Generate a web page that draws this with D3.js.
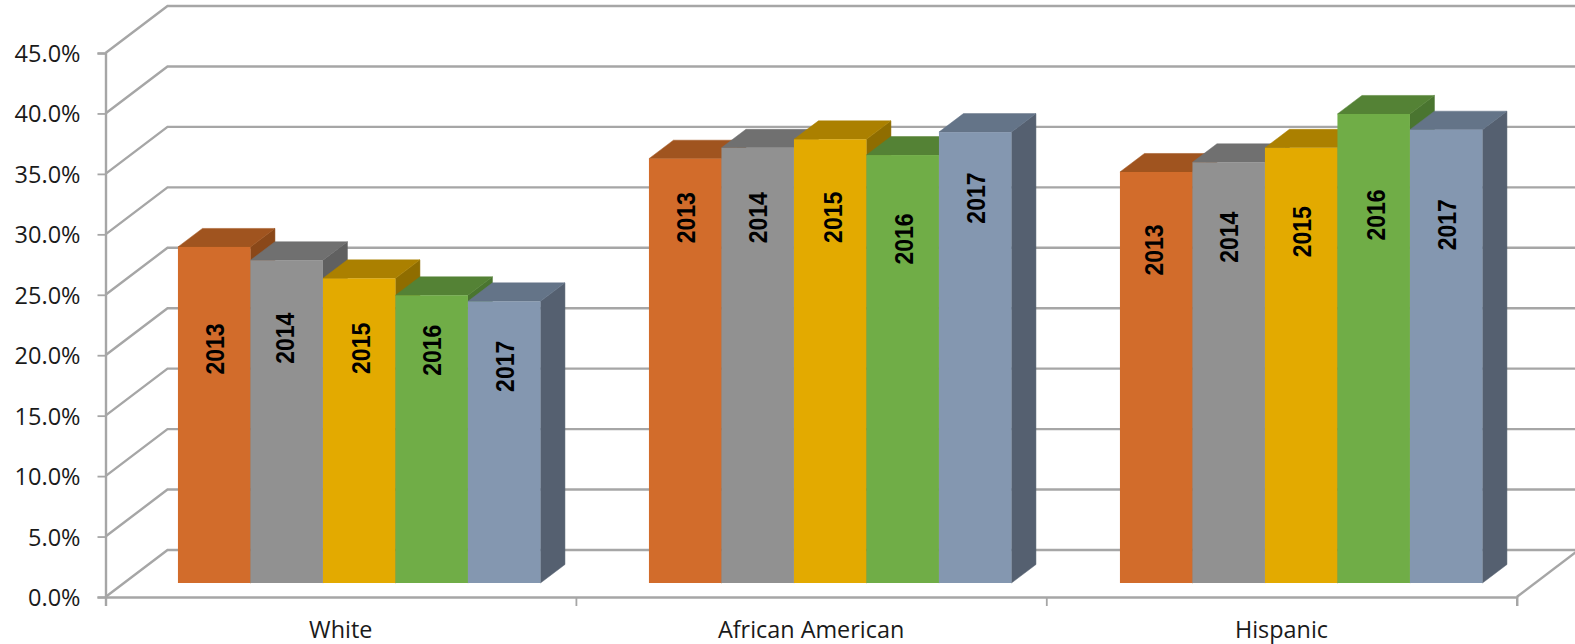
<!DOCTYPE html>
<html>
<head>
<meta charset="utf-8">
<script src="https://cdn.jsdelivr.net/npm/d3@7"></script>
<style>
  html, body { margin: 0; padding: 0; background: #fff; overflow: hidden; }
  svg { display: block; }
</style>
</head>
<body>
<svg id="chart"></svg>
<script>
const categories = ["White", "African American", "Hispanic"];
const years = ["2013", "2014", "2015", "2016", "2017"];
const values2013 = [27.8, 35.1, 34.0];
const values2014 = [26.7, 36.0, 34.8];
const values2015 = [25.2, 36.7, 36.0];
const values2016 = [23.8, 35.4, 38.8];
const values2017 = [23.3, 37.3, 37.5];
const yTicks = [0, 5, 10, 15, 20, 25, 30, 35, 40, 45];

const seriesValues = [values2013, values2014, values2015, values2016, values2017];

const width = 1575;
const height = 644;

const frontColors = ["#d26c2b", "#919191", "#e3aa00", "#70ad47", "#8497b0"];
const topColors = ["#a0541f", "#707070", "#ab8000", "#548235", "#647488"];
const sideColors = ["#8a4819", "#606060", "#8f6d00", "#4a7530", "#556070"];

// year labels were placed by hand in the original, so keep their nudges here
const labelDrop = [
  [102, 59, 78],
  [78, 70, 75],
  [70, 78, 84],
  [55, 84, 101],
  [65, 66, 95],
];
const labelShift = [
  [1, 0.5, -2],
  [-2, 0.5, 0],
  [2, 2.5, 1],
  [0, 1.5, 2],
  [1, 0.5, 1],
];

const wall = { dx: 62, dy: 47 };
const inset = { dx: 18.5, dy: 14 };
const depth = { dx: 24.5, dy: 18.5 };

const svg = d3.select("#chart").attr("width", width).attr("height", height);

const x = d3.scaleBand().domain(categories).range([105.5, 1516.7]);
// bar groups step a touch wider than the axis ticks
const xGroup = d3.scaleBand().domain(categories).range([105.5, 1518.5]);
const y = d3.scaleLinear().domain([0, 45]).range([597, 53]);
const xInner = d3.scaleBand().domain(years).range([0, 362.5]);
const groupPad = (x.bandwidth() - xInner.range()[1]) / 2;

const gridColor = "#a6a6a6";
const labelFont = "'Open Sans', Lato, sans-serif";

// back wall and left wall
const grid = svg.append("g").attr("fill", "none").attr("stroke", gridColor).attr("stroke-width", 2.4);
grid.selectAll("path")
  .data(yTicks)
  .join("path")
  .attr("d", (d) => {
    const y0 = y(d);
    const px = x.range()[0];
    return `M ${px} ${y0} L ${px + wall.dx} ${y0 - wall.dy} L ${x.range()[1] + wall.dx} ${y0 - wall.dy}`;
  });

// floor right edge
grid.append("path")
  .attr("d", `M ${x.range()[1]} ${y(0)} L ${x.range()[1] + wall.dx} ${y(0) - wall.dy}`);

const yAxis = svg.append("g")
  .attr("transform", `translate(${x.range()[0]},0)`)
  .call(d3.axisLeft(y).tickValues(yTicks).tickSize(8).tickPadding(17).tickFormat((d) => d3.format(".1f")(d) + "%"));

const catTicks = categories.map((c) => x(c)).concat(x.range()[1]);
const xAxis = svg.append("g")
  .attr("transform", `translate(0,${y(0)})`)
  .call(d3.axisBottom(d3.scaleLinear().domain(x.range()).range(x.range()))
    .tickValues(catTicks).tickSize(9).tickFormat(""));

[yAxis, xAxis].forEach((axis) => {
  axis.select(".domain").attr("stroke", gridColor).attr("stroke-width", 2.4);
  axis.selectAll(".tick line").attr("stroke", gridColor).attr("stroke-width", 1.8);
});
yAxis.selectAll(".tick text")
  .attr("font-family", labelFont)
  .attr("font-size", 23.5)
  .attr("dy", "0.36em")
  .attr("fill", "#1a1a1a");

svg.append("g")
  .selectAll("text")
  .data(categories)
  .join("text")
  .attr("x", (d) => x(d) + x.bandwidth() / 2)
  .attr("y", 638)
  .attr("text-anchor", "middle")
  .attr("font-family", labelFont)
  .attr("font-size", 23.4)
  .attr("fill", "#1a1a1a")
  .text((d) => d);

// bars, drawn left to right so later fronts cover earlier sides
const bars = [];
categories.forEach((cat, ci) => {
  years.forEach((yr, si) => {
    bars.push({ cat, ci, yr, si, value: seriesValues[si][ci] });
  });
});

svg.append("g")
  .selectAll("g")
  .data(bars)
  .join("g")
  .each(function (d) {
    const g = d3.select(this);
    const x0 = xGroup(d.cat) + groupPad + inset.dx + xInner(d.yr);
    const x1 = x0 + xInner.bandwidth();
    const yTop = y(d.value) - inset.dy;
    const yBase = y(0) - inset.dy;
    g.append("polygon")
      .attr("points", [[x1, yTop], [x1 + depth.dx, yTop - depth.dy], [x1 + depth.dx, yBase - depth.dy], [x1, yBase]].join(" "))
      .attr("fill", sideColors[d.si])
      .attr("stroke", sideColors[d.si])
      .attr("stroke-width", 0.5);
    g.append("polygon")
      .attr("points", [[x0, yTop], [x0 + depth.dx, yTop - depth.dy], [x1 + depth.dx, yTop - depth.dy], [x1, yTop]].join(" "))
      .attr("fill", topColors[d.si])
      .attr("stroke", topColors[d.si])
      .attr("stroke-width", 0.5);
    g.append("rect")
      .attr("x", x0)
      .attr("y", yTop)
      .attr("width", xInner.bandwidth())
      .attr("height", yBase - yTop)
      .attr("fill", frontColors[d.si]);
  });

svg.append("g")
  .selectAll("text")
  .data(bars)
  .join("text")
  .attr("transform", (d) => {
    const cx = xGroup(d.cat) + groupPad + inset.dx + xInner(d.yr) + xInner.bandwidth() / 2 + labelShift[d.si][d.ci];
    const cy = y(d.value) - inset.dy + labelDrop[d.si][d.ci];
    return `translate(${cx},${cy}) rotate(-90) scale(1,1.12)`;
  })
  .attr("text-anchor", "middle")
  .attr("dy", "0.35em")
  .attr("font-family", "'Liberation Sans', Arial, sans-serif")
  .attr("font-weight", "bold")
  .attr("font-size", 23)
  .attr("fill", "#000")
  .text((d) => d.yr);
</script>
</body>
</html>
